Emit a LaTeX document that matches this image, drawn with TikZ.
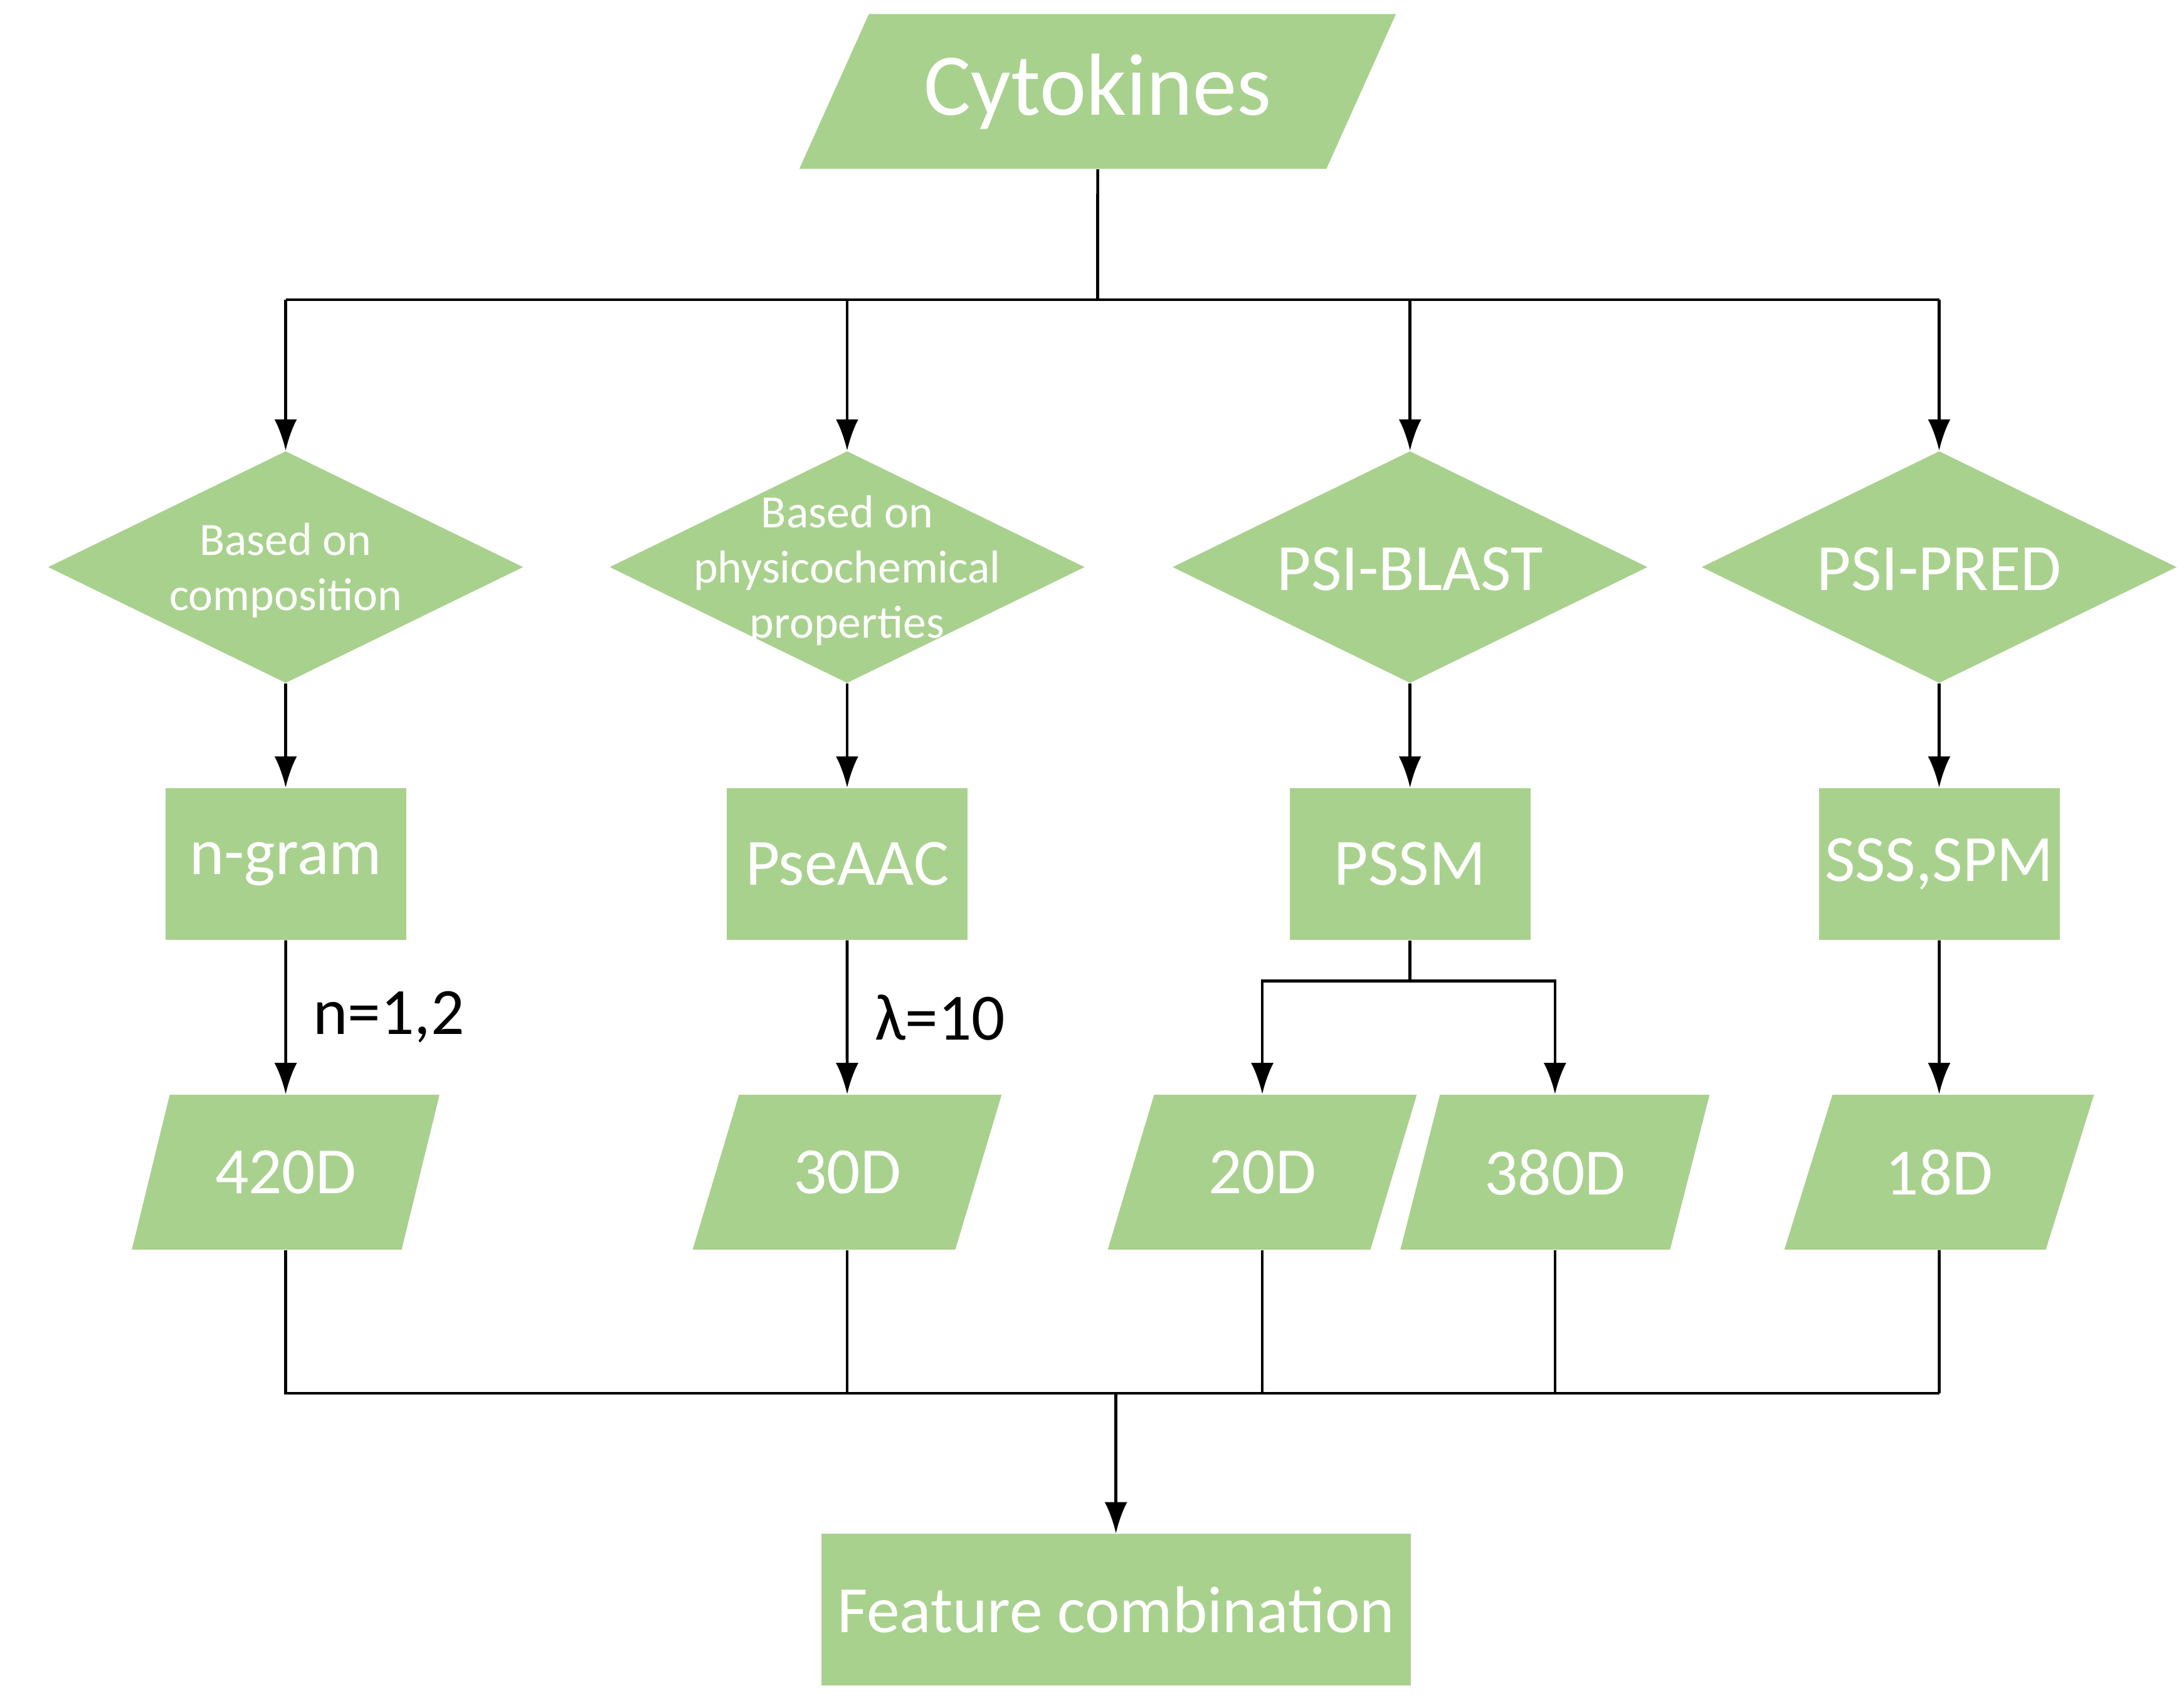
\documentclass[tikz,border=0pt]{standalone}
\usepackage{fontspec}
\setmainfont{Carlito}
\usetikzlibrary{arrows.meta,shapes.geometric}
\definecolor{leaf}{HTML}{A9D18E}
\newcommand\flattext[1]{\makebox[0pt]{\smash{\raisebox{-0.35em}{\begin{tabular}{@{}c@{}}#1\end{tabular}}}}}
\tikzset{
  box/.style={fill=leaf, text=white, minimum width=3.84cm, minimum height=2.42cm, inner sep=0pt, font=\fontsize{30}{32}\selectfont},
  para/.style={trapezium, trapezium left angle=62, trapezium right angle=118, trapezium stretches=true, fill=leaf, text=white, minimum width=4.94cm, minimum height=2.47cm, inner sep=0pt, font=\fontsize{30}{32}\selectfont},
  choice/.style={diamond, fill=leaf, text=white, minimum width=7.58cm, minimum height=3.7cm, inner sep=0pt, font=\fontsize{21}{25}\selectfont},
  link/.style={line width=1.3pt},
  arrow/.style={link, -{Latex[length=5mm,width=3.6mm]}},
  note/.style={font=\fontsize{30}{32}\selectfont}
}
\begin{document}
\begin{tikzpicture}[x=0.02244cm, y=-0.02244cm]
\useasboundingbox (0,0) rectangle (1552,1210);

\node[para, trapezium left angle=55, trapezium right angle=125, minimum width=9.54cm, font=\fontsize{40}{44}\selectfont] (cyto) at (780,65) {Cytokines};

% branching
\coordinate (top) at (780,213);
\coordinate (t1) at (203,213);
\coordinate (t2) at (602,213);
\coordinate (t3) at (1002,213);
\coordinate (t4) at (1378,213);

\node[choice] (comp) at (203,403) {\flattext{Based on\\composition}};
\node[choice] (phys) at (602,403) {\flattext{Based on\\physicochemical\\properties}};
\node[choice, font=\fontsize{30}{32}\selectfont] (blast) at (1002,403) {\flattext{PSI-BLAST}};
\node[choice, font=\fontsize{30}{32}\selectfont] (pred) at (1378,403) {\flattext{PSI-PRED}};

\node[box] (ngram) at (203,614) {n-gram};
\node[box] (pse) at (602,614) {PseAAC};
\node[box] (pssm) at (1002,614) {PSSM};
\node[box] (sss) at (1378,614) {SSS,SPM};

\node[para] (d420) at (203,833) {420D};
\node[para] (d30) at (602,833) {30D};
\node[para] (d20) at (897,833) {20D};
\node[para] (d380) at (1105,833) {380D};
\node[para] (d18) at (1378,833) {18D};

\node[box, minimum width=9.4cm] (feat) at (793,1144) {Feature combination};

\draw[link] (cyto.south) -- (top);
\draw[link] (t1) -- (t4);
\draw[arrow] (t1) -- (comp.north);
\draw[arrow] (t2) -- (phys.north);
\draw[arrow] (t3) -- (blast.north);
\draw[arrow] (t4) -- (pred.north);

\draw[arrow] (comp.south) -- (ngram.north);
\draw[arrow] (phys.south) -- (pse.north);
\draw[arrow] (blast.south) -- (pssm.north);
\draw[arrow] (pred.south) -- (sss.north);

\draw[arrow] (ngram.south) -- node[note, right, xshift=3mm] (lab1) {n=1,2} (d420.north);
\draw[arrow] (pse.south) -- node[note, right, xshift=3mm] (lab2) {λ=10} (d30.north);
\coordinate (split) at (1002,697);
\draw[link] (pssm.south) -- (split);
\draw[arrow] (split) -| (d20.north);
\draw[arrow] (split) -| (d380.north);
\draw[arrow] (sss.south) -- (d18.north);

% merging
\coordinate (m1) at (205,990);
\coordinate (m2) at (1378,990);
\coordinate (mid) at (793,990);
\draw[link] (d420.south) |- (m1) -- (m2);
\draw[link] (d30.south) -- (d30.south |- mid);
\draw[link] (d20.south) -- (d20.south |- mid);
\draw[link] (d380.south) -- (d380.south |- mid);
\draw[link] (d18.south) -- (m2);
\draw[arrow] (mid) -- (feat.north);
\end{tikzpicture}
\end{document}
